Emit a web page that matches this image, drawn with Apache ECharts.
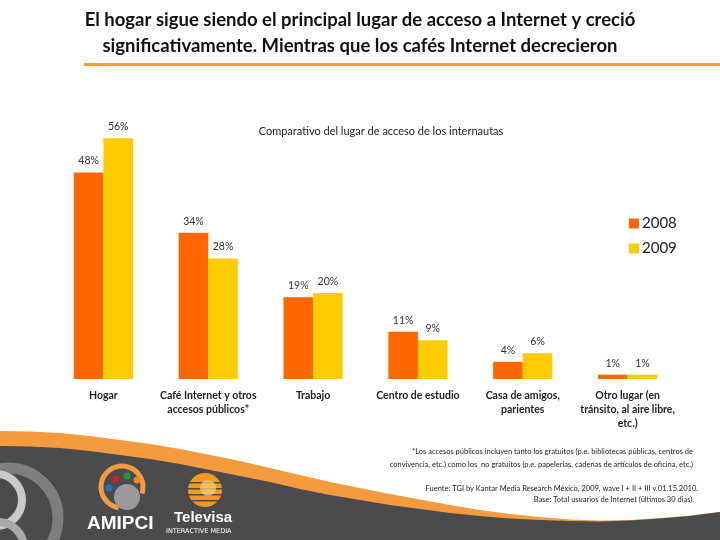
<!DOCTYPE html>
<html>
<head>
<meta charset="utf-8">
<script src="https://cdn.jsdelivr.net/npm/echarts@6/dist/echarts.min.js"></script>
<style>html,body{margin:0;padding:0;background:#fff;}#c{width:720px;height:540px;}</style>
</head>
<body>
<div id="c"></div>
<script>
const categories = ['Hogar', 'Café Internet y otros\naccesos públicos*', 'Trabajo', 'Centro de estudio', 'Casa de amigos,\nparientes', 'Otro lugar (en\ntránsito, al aire libre,\netc.)'];
const values2008 = [48, 34, 19, 11, 4, 1];
const values2009 = [56, 28, 20, 9, 6, 1];
const seriesNames = ['2008', '2009'];

const FONT = 'Lato, "Open Sans", sans-serif';
const chart = echarts.init(document.getElementById('c'), null, {renderer: 'canvas'});

const darkTop = [[0,446],[30,446.5],[60,448],[90,451],[120,455],[150,459],[180,464],[210,470],[240,476],[270,482],[300,489],[330,495],[360,500],[390,505],[420,509],[450,513],[480,516],[510,518.5],[540,520],[570,521],[600,521.5],[630,520.5],[660,518.5],[690,516],[720,512]];
const orangeTop = [[0,431],[30,431.5],[60,433],[90,436],[120,440],[150,444],[180,449],[210,455],[240,461],[270,468],[300,475],[330,482],[360,488],[390,494],[420,499.5],[450,505],[480,510],[510,514],[540,517],[570,519.5],[600,520.5],[630,520],[660,518],[690,515.5],[720,512]];

function closeBottom(pts){ return pts.concat([[720,545],[0,545]]); }

const option = {
  backgroundColor: '#ffffff',
  animation: false,
  title: [
    {
      text: 'Comparativo del lugar de acceso de los internautas',
      left: 376, top: 121, textAlign: 'center',
      textStyle: {fontFamily: FONT, fontSize: 11, fontWeight: 'normal', color: '#222'}
    }
  ],
  legend: {
    orient: 'vertical', left: 624, top: 211,
    itemWidth: 10, itemHeight: 10, itemGap: 10,
    icon: 'rect',
    textStyle: {fontFamily: FONT, fontSize: 15, color: '#222', lineHeight: 14, padding: [0,0,0,-2]},
    data: seriesNames
  },
  grid: {left: 51, right: 40, top: 121, bottom: 161},
  xAxis: {
    type: 'category', data: categories,
    axisLine: {show: false}, axisTick: {show: false},
    axisLabel: {interval: 0, margin: 10, fontFamily: FONT, fontSize: 10.5, fontWeight: 'bold', color: '#222', lineHeight: 14}
  },
  yAxis: {type: 'value', min: 0, max: 60, show: false, splitLine: {show: false}},
  series: [
    {
      name: seriesNames[0], type: 'bar', data: values2008, barWidth: 29.6, barGap: '0%',
      itemStyle: {color: '#FF6600'},
      label: {show: true, position: 'top', distance: 6, formatter: '{c}%', fontFamily: FONT, fontSize: 10.5, color: '#333'}
    },
    {
      name: seriesNames[1], type: 'bar', data: values2009, barWidth: 29.6,
      itemStyle: {color: '#FFCC00'},
      label: {show: true, position: 'top', distance: 6, formatter: '{c}%', fontFamily: FONT, fontSize: 10.5, color: '#333'}
    }
  ],
  graphic: [
    {type: 'text', x: 360, y: 7, style: {text: 'El hogar sigue siendo el principal lugar de acceso a Internet y creció\nsignificativamente. Mientras que los cafés Internet decrecieron', fill: '#111', font: 'bold 18.5px Lato, sans-serif', textAlign: 'center', lineHeight: 26}, silent: true},
    {type: 'rect', shape: {x: 84, y: 63, width: 636, height: 3}, style: {fill: '#F0A023'}, silent: true},
    {type: 'polygon', shape: {points: closeBottom(orangeTop)}, style: {fill: '#F49B3F'}, silent: true, z: -2},
    {type: 'polygon', shape: {points: closeBottom(darkTop)}, style: {fill: '#4B4B4D'}, silent: true, z: -1},
    // rings on the left
    {type: 'circle', shape: {cx: 8, cy: 518, r: 50}, style: {fill: 'none', stroke: '#7E7E80', lineWidth: 11}, silent: true},
    {type: 'circle', shape: {cx: -4, cy: 500, r: 26}, style: {fill: 'none', stroke: '#C9C9CA', lineWidth: 8}, silent: true},
    {type: 'circle', shape: {cx: -2, cy: 548, r: 26}, style: {fill: 'none', stroke: '#A8A8AA', lineWidth: 8}, silent: true},
    // AMIPCI logo
    {type: 'arc', shape: {cx: 122, cy: 487, r: 21, startAngle: Math.PI*0.55, endAngle: Math.PI*2.1}, style: {fill: 'none', stroke: '#F49B3F', lineWidth: 5}, silent: true},
    {type: 'circle', shape: {cx: 127, cy: 497, r: 13}, style: {fill: '#9A9A9C'}, silent: true},
    {type: 'circle', shape: {cx: 116, cy: 479, r: 3.5}, style: {fill: '#D0202A'}, silent: true},
    {type: 'circle', shape: {cx: 127, cy: 476, r: 3.5}, style: {fill: '#1F9A3A'}, silent: true},
    {type: 'circle', shape: {cx: 137, cy: 480, r: 3.5}, style: {fill: '#F08A20'}, silent: true},
    {type: 'circle', shape: {cx: 109, cy: 488, r: 3.5}, style: {fill: '#2A6FC0'}, silent: true},
    {type: 'text', x: 87, y: 514, style: {text: 'AMIPCI', fill: '#ffffff', font: 'bold 19px "Liberation Sans", Arial, sans-serif'}, silent: true},
    // Televisa logo
    {type: 'circle', shape: {cx: 205, cy: 490, r: 17}, style: {fill: '#F39A1E'}, silent: true},
    {type: 'rect', shape: {x: 180, y: 482, width: 50, height: 1.5}, style: {fill: '#4B4B4D'}, silent: true},
    {type: 'rect', shape: {x: 180, y: 488, width: 50, height: 1.5}, style: {fill: '#4B4B4D'}, silent: true},
    {type: 'rect', shape: {x: 180, y: 494, width: 50, height: 1.5}, style: {fill: '#4B4B4D'}, silent: true},
    {type: 'rect', shape: {x: 180, y: 500, width: 50, height: 1.5}, style: {fill: '#4B4B4D'}, silent: true},
    {type: 'circle', shape: {cx: 208, cy: 488, r: 8}, style: {fill: '#FFD27A', opacity: 0.7}, silent: true},
    {type: 'text', x: 174, y: 510, style: {text: 'Televisa', fill: '#ffffff', font: 'bold 15px "Liberation Sans", Arial, sans-serif'}, silent: true},
    {type: 'text', x: 166, y: 528, style: {text: 'INTERACTIVE MEDIA', fill: '#ffffff', font: '6.5px "DejaVu Sans", sans-serif'}, silent: true},
    // footnotes
    {type: 'text', right: 27, top: 448, style: {text: '*Los accesos públicos incluyen tanto los gratuitos (p.e. bibliotecas públicas, centros de', fill: '#222', font: '7.5px Lato, sans-serif', textAlign: 'right'}, silent: true},
    {type: 'text', right: 27, top: 461, style: {text: 'convivencia, etc.) como los  no gratuitos (p.e. papelerías, cadenas de artículos de oficina, etc.)', fill: '#222', font: '7.5px Lato, sans-serif', textAlign: 'right'}, silent: true},
    {type: 'text', right: 22, top: 485, style: {text: 'Fuente: TGI by Kantar Media Research México, 2009, wave I + II + III v.01.15.2010.', fill: '#222', font: '7.5px Lato, sans-serif', textAlign: 'right'}, silent: true},
    {type: 'text', right: 26, top: 496, style: {text: 'Base: Total usuarios de Internet (últimos 30 días).', fill: '#222', font: '7.5px Lato, sans-serif', textAlign: 'right'}, silent: true}
  ]
};
chart.setOption(option);
</script>
</body>
</html>
